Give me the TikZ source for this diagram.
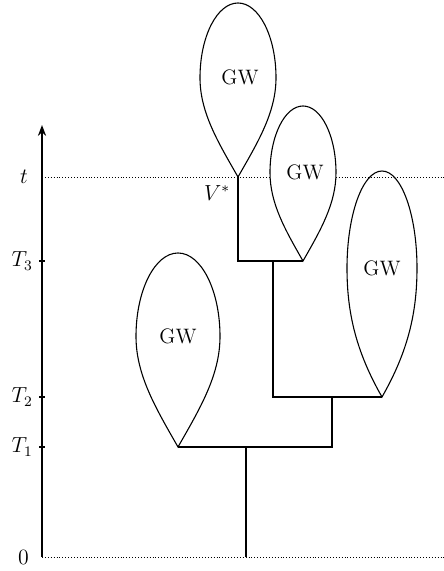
\documentclass[tikz,border=0pt]{standalone}
\usepackage{tikz}
\usetikzlibrary{arrows.meta,positioning}
\tikzset{
  axisline/.style={-{Stealth[length=6pt,width=4.5pt]}, line width=1.1pt},
  branch/.style={line width=1.5pt},
  gwloop/.style={line width=0.6pt, fill=white},
  level/.style={line width=0.45pt, dash pattern=on 0.5pt off 1.1pt},
  tick/.style={line width=0.6pt},
  ticklab/.style={anchor=east, inner sep=1pt},
}

\begin{document}
\begin{tikzpicture}[x=0.55pt, y=0.55pt, font=\fontsize{11.5}{14}\selectfont]
\useasboundingbox (0,0) rectangle (444,571);

\def\xax{42}  % Zeitachse
\def\yt{394}  % Hoehe t
\def\yA{310}  % T_3
\def\yB{174}  % T_2
\def\yC{124}  % T_1

% -- Achse ------------------------------------------------------------------
\coordinate (ax0) at (\xax, 14);
\coordinate (axtop) at (\xax, 446);
\coordinate (tend) at (444, \yt);
\coordinate (zend) at (444, 14);
\coordinate (tstart) at (\xax, \yt);
\draw[axisline] (ax0) -- (axtop);
\node[ticklab] (lblzero) at (31, 14) {$0$};
\node (lblt) at (24, \yt) {$t$};
\foreach \yy/\lbl/\nm in {\yA/T_3/tA, \yB/T_2/tB, \yC/T_1/tC}{
  \draw[tick] (\xax-3, \yy) -- (\xax+3, \yy);
  \node[ticklab] (\nm) at (35, \yy) {$\lbl$};
}

% -- Baum -------------------------------------------------------------------
\coordinate (root) at (246, 14);
\coordinate (s1) at (246, \yC);
\coordinate (tipD) at (178, \yC);
\coordinate (a1) at (332, \yC);
\coordinate (a2) at (332, \yB);
\coordinate (b1) at (273, \yB);
\coordinate (tipC) at (382, \yB);
\coordinate (b2) at (273, \yA);
\coordinate (c1) at (238, \yA);
\coordinate (tipB) at (303, \yA);
\coordinate (vstar) at (238, \yt);

% GW-Blaetter unter der Linie t
\foreach \x/\y/\h/\w/\nm in {382/174/226/35/gwC, 178/124/194/42/gwD}{
  \pgfmathsetmacro\c{0.57*\h}
  \draw[gwloop] (\x,\y)
    .. controls ({\x-0.2*\c},{\y+0.35*\c}) and ({\x-\w},{\y+0.65*\c}) .. ({\x-\w},{\y+\c})
    .. controls ({\x-\w},{\y+\c+0.552*(\h-\c)}) and ({\x-0.552*\w},{\y+\h}) .. (\x,{\y+\h})
    .. controls ({\x+0.552*\w},{\y+\h}) and ({\x+\w},{\y+\c+0.552*(\h-\c)}) .. ({\x+\w},{\y+\c})
    .. controls ({\x+\w},{\y+0.65*\c}) and ({\x+0.2*\c},{\y+0.35*\c}) .. (\x,\y) -- cycle;
  \node (\nm) at (\x,{\y+\c}) {GW};
}

\draw[level] (ax0) -- (zend);
\draw[level] (tstart) -- (tend);

\foreach \x/\y/\h/\w/\nm in {238/394/174/38/gwA, 303/310/155/33/gwB}{
  \pgfmathsetmacro\c{0.57*\h}
  \draw[gwloop] (\x,\y)
    .. controls ({\x-0.2*\c},{\y+0.35*\c}) and ({\x-\w},{\y+0.65*\c}) .. ({\x-\w},{\y+\c})
    .. controls ({\x-\w},{\y+\c+0.552*(\h-\c)}) and ({\x-0.552*\w},{\y+\h}) .. (\x,{\y+\h})
    .. controls ({\x+0.552*\w},{\y+\h}) and ({\x+\w},{\y+\c+0.552*(\h-\c)}) .. ({\x+\w},{\y+\c})
    .. controls ({\x+\w},{\y+0.65*\c}) and ({\x+0.2*\c},{\y+0.35*\c}) .. (\x,\y) -- cycle;
  \node (\nm) at ({\x+2},{\y+\c}) {GW};
}

\draw[branch] (root) -- (s1);
\draw[branch] (tipD) -- (a1) -- (a2);
\draw[branch] (tipC) -- (b1) -- (b2);
\draw[branch] (vstar) -- (c1) -- (tipB);
\node (lblV) at (217, 378) {$V^*$};

\end{tikzpicture}
\end{document}
